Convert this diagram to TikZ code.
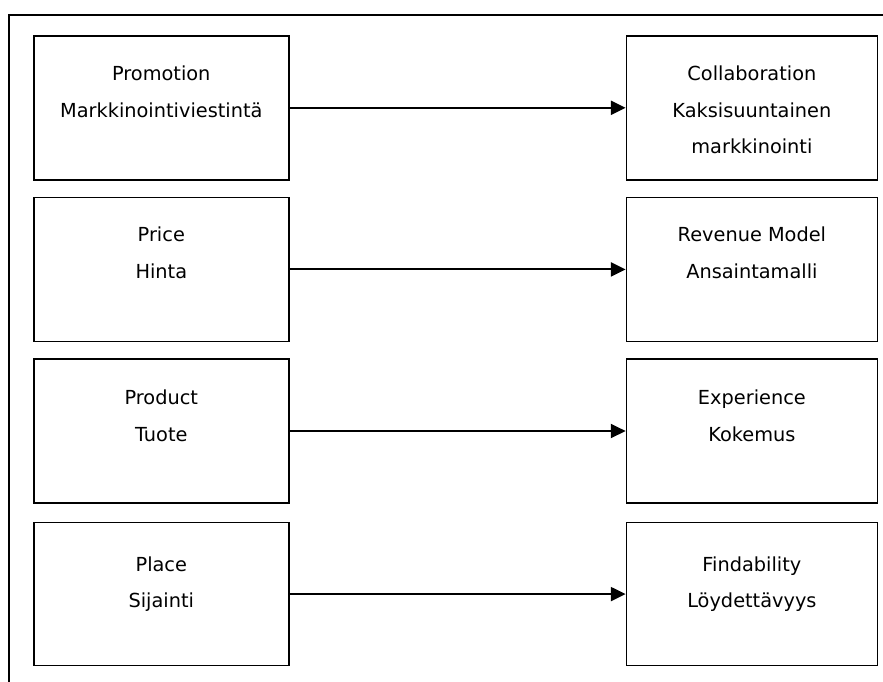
\documentclass[tikz,border=0pt]{standalone}
\usepackage{fontspec}
\setmainfont{DejaVu Sans}
\usepackage{tikz}
\usetikzlibrary{arrows.meta,positioning}

\begin{document}
\begin{tikzpicture}[x=0.75pt, y=-0.75pt, >={Triangle[length=11pt,width=10.5pt]}]

\tikzstyle{block} = [draw, rectangle, line width=1.2pt, minimum height=108pt]
\tikzstyle{left block} = [block, minimum width=191.25pt]
\tikzstyle{right block} = [block, minimum width=188.25pt]
\tikzstyle{words} = [inner sep=0pt, outer sep=0pt, align=center, font=\fontsize{14.5}{27.5}\selectfont]

\useasboundingbox (0,0) rectangle (883,682);
\draw [line width=1.4pt] (9,682) -- (9,15) -- (883,15);

\node [left block, anchor=north west] (promotion) at (33,35) {};
\node [left block, below = 12pt of promotion] (price) {};
\node [left block, below = 12pt of price] (product) {};
\node [left block, below = 13.5pt of product, minimum height=107.25pt] (place) {};

\node [right block, right = 252pt of promotion] (collaboration) {};
\node [right block, right = 252pt of price] (revenue) {};
\node [right block, right = 252pt of product] (experience) {};
\node [right block, right = 252pt of place, minimum height=107.25pt] (findability) {};

\node [words, below = 23pt of promotion.north] (promotion-text) {Promotion\\Markkinointiviestintä};
\node [words, below = 23pt of price.north] (price-text) {Price\\Hinta};
\node [words, below = 24pt of product.north] (product-text) {Product\\Tuote};
\node [words, below = 26pt of place.north] (place-text) {Place\\Sijainti};
\node [words, below = 23pt of collaboration.north] (collaboration-text) {Collaboration\\Kaksisuuntainen\\markkinointi};
\node [words, below = 23pt of revenue.north] (revenue-text) {Revenue Model\\Ansaintamalli};
\node [words, below = 24pt of experience.north] (experience-text) {Experience\\Kokemus};
\node [words, below = 26pt of findability.north] (findability-text) {Findability\\Löydettävyys};

\draw [->, line width=1.4pt] (promotion) -- (collaboration);
\draw [->, line width=1.4pt] (price) -- (revenue);
\draw [->, line width=1.4pt] (product) -- (experience);
\draw [->, line width=1.4pt] (place) -- (findability);
\end{tikzpicture}
\end{document}
